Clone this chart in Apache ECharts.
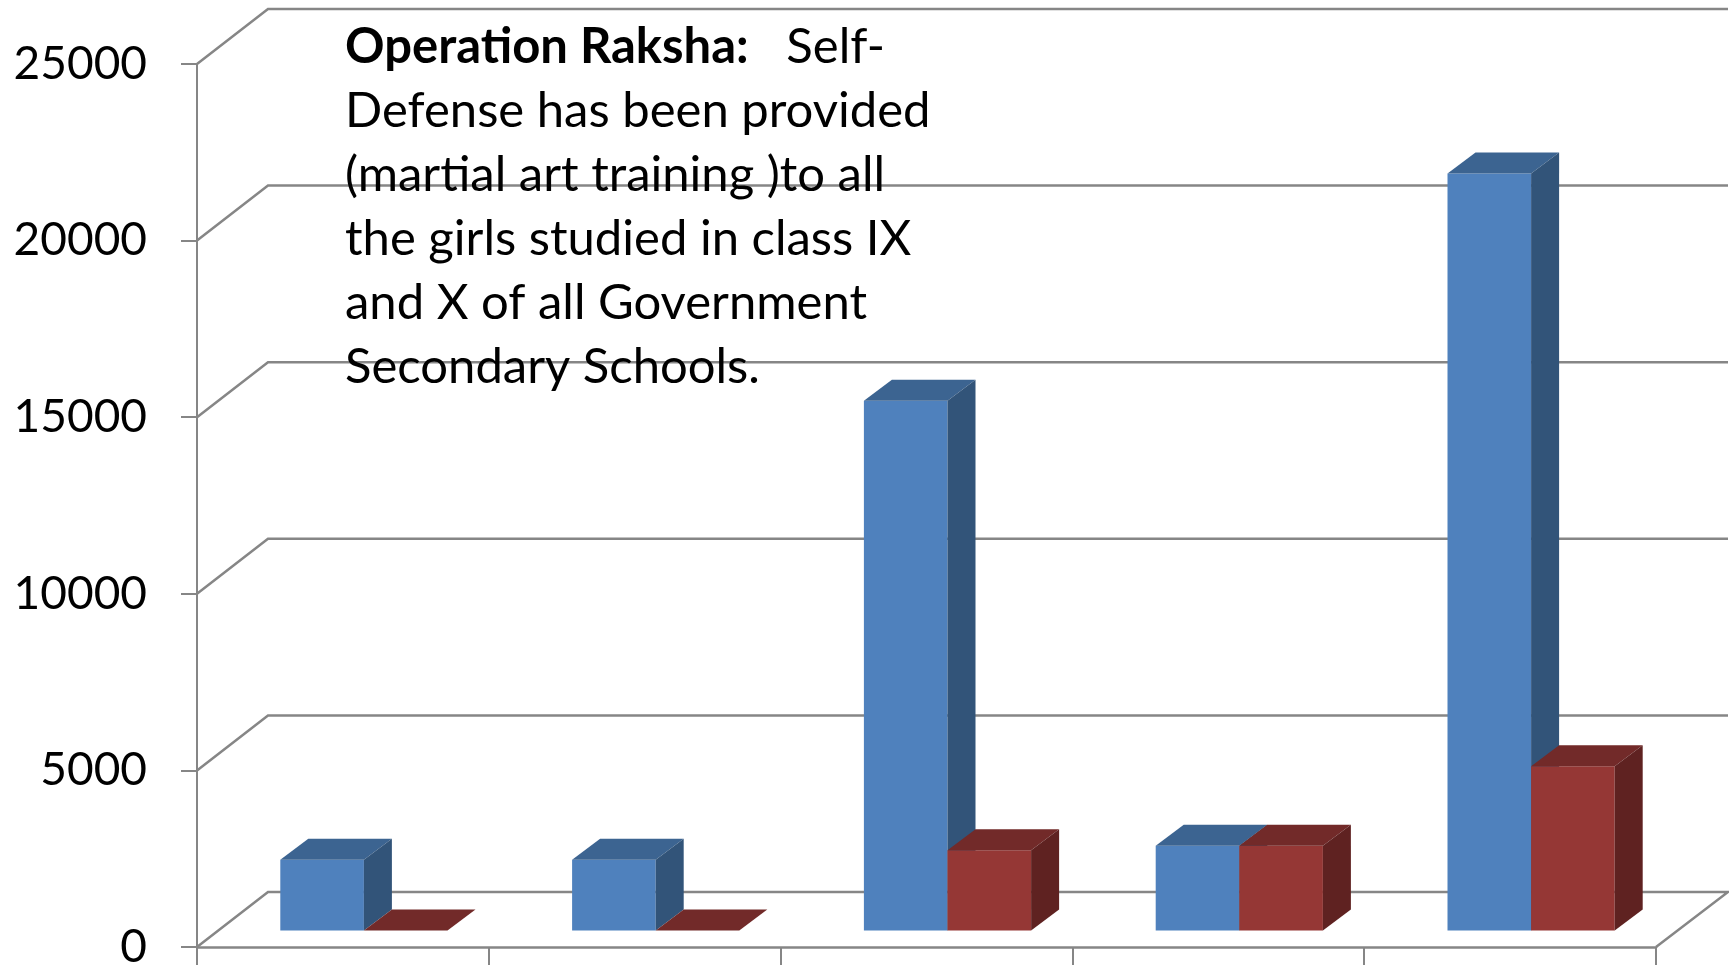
<!DOCTYPE html>
<html>
<head>
<meta charset="utf-8">
<title>Operation Raksha</title>
<style>
  html, body { margin: 0; padding: 0; background: #fff; }
  #main { width: 1729px; height: 965px; }
</style>
<script src="https://cdn.jsdelivr.net/npm/echarts@6/dist/echarts.min.js"></script>
</head>
<body>
<div id="main"></div>
<script>
// the x labels are cut off in the picture, so categories are just positions
let categories = ['1', '2', '3', '4', '5']
let yTicks = [0, 5000, 10000, 15000, 20000, 25000]
let blueValues = [2000, 2000, 15000, 2400, 21430]
let redValues = [0, 0, 2270, 2400, 4650]
let noteHead = 'Operation Raksha:'
let noteLines = [
    '   Self-',
    'Defense has been provided',
    '(martial art training )to all',
    'the girls studied in class IX',
    'and X of all Government',
    'Secondary Schools.'
]

let font = 'Lato'
let gridColor = '#868686'
// fake 3d: depth of the wall, of a bar, and the gap in front of a bar
let wallDx = 71, wallDy = 55
let barDx = 28, barDy = 21
let gapDx = 21, gapDy = 16.5

function wallItem(params, api) {
    let v = api.value(1)
    let box = params.coordSys
    let y = api.coord([0, v])[1]
    let pts = [[box.x, y], [box.x + wallDx, y - wallDy], [box.x + box.width + wallDx + 1, y - wallDy]]
    if (v === 0) {
        pts.push([box.x + box.width, y])
    }
    return {
        type: 'polyline',
        shape: { points: pts },
        style: { stroke: gridColor, lineWidth: 2.5, fill: null }
    }
}

function barItem(offset, colors) {
    return function (params, api) {
        let top = api.coord([api.value(0), api.value(1)])
        let base = api.coord([api.value(0), 0])
        let w = api.size([1, 0])[0] * 0.2865
        let x0 = top[0] + gapDx + offset * w
        let x1 = x0 + w
        let y0 = top[1] - gapDy
        let y1 = base[1] - gapDy
        let poly = (points, fill) => ({
            type: 'polygon',
            shape: { points },
            style: { fill }
        })
        return {
            type: 'group',
            children: [
                poly([[x0, y0], [x1, y0], [x1, y1], [x0, y1]], colors[0]),
                poly([[x0, y0], [x0 + barDx, y0 - barDy], [x1 + barDx, y0 - barDy], [x1, y0]], colors[1]),
                poly([[x1, y0], [x1 + barDx, y0 - barDy], [x1 + barDx, y1 - barDy], [x1, y1]], colors[2])
            ]
        }
    }
}

var myChart = echarts.init(document.getElementById('main'))
var option = {
    animation: false,
    backgroundColor: '#fff',
    title: {
        left: 340,
        top: 10,
        z: 20,
        text: '{b|' + noteHead + '}' + noteLines.join('\n'),
        textStyle: {
            fontFamily: font,
            fontWeight: 'normal',
            fontSize: 49,
            lineHeight: 64,
            color: '#000',
            rich: {
                b: { fontFamily: font, fontWeight: 'bold', fontSize: 49, lineHeight: 64, color: '#000' }
            }
        }
    },
    grid: { left: 197, top: 64, right: 73, bottom: 18, outerBoundsMode: 'none' },
    xAxis: {
        type: 'category',
        data: categories,
        axisLine: { lineStyle: { color: gridColor, width: 2.5 } },
        axisTick: { show: true, length: 24, lineStyle: { color: gridColor, width: 2 } },
        axisLabel: { show: false },
        splitLine: { show: false }
    },
    yAxis: {
        type: 'value',
        min: yTicks[0],
        max: yTicks[yTicks.length - 1],
        interval: yTicks[1] - yTicks[0],
        axisLine: { show: true, lineStyle: { color: gridColor, width: 2 } },
        axisTick: { show: true, length: 16, lineStyle: { color: gridColor, width: 2 } },
        axisLabel: {
            fontFamily: font,
            fontSize: 46,
            color: '#000',
            margin: 50,
            padding: [10, 0, 0, 0],
            formatter: v => String(v)
        },
        splitLine: { show: false }
    },
    series: [
        {
            type: 'custom',
            name: 'wall',
            z: 1,
            data: yTicks.map(v => [0, v]),
            encode: { x: 0, y: 1 },
            renderItem: wallItem,
            silent: true
        },
        {
            type: 'custom',
            name: 'blue',
            z: 2,
            data: categories.map((c, i) => [i, blueValues[i]]),
            encode: { x: 0, y: 1 },
            renderItem: barItem(-1, ['#4f81bd', '#3c6491', '#325479'])
        },
        {
            type: 'custom',
            name: 'red',
            z: 3,
            data: categories.map((c, i) => [i, redValues[i]]),
            encode: { x: 0, y: 1 },
            renderItem: barItem(0, ['#953735', '#722a29', '#5f2221'])
        }
    ]
}
myChart.setOption(option)
</script>
</body>
</html>
